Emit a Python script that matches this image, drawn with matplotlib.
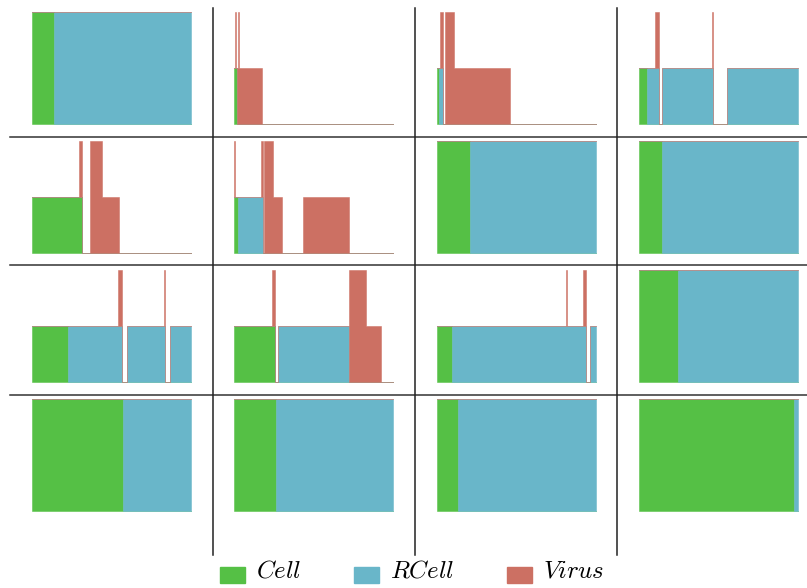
import numpy as np
import matplotlib
matplotlib.use("Agg")
import matplotlib.pyplot as plt
from matplotlib.lines import Line2D
from matplotlib.patches import Patch, Rectangle
from matplotlib.legend_handler import HandlerPatch
from matplotlib.colors import to_rgba

plt.rcParams["mathtext.fontset"] = "cm"

# Population state of each run (4x4 grid, row-major), stored as
# change-point times (0..100) and the level of each species per interval.
times = [
    [0, 13.9, 100],
    [0, 0.6, 1.1, 1.6, 2.4, 3.0, 17.6, 100],
    [0, 1.3, 2.2, 4.1, 4.9, 10.6, 46.2, 100],
    [0, 5.3, 10.1, 12.7, 14.6, 45.9, 46.6, 55.5, 100],
    [0, 29.6, 31.4, 36.7, 44.1, 55.1, 100],
    [0, 0.8, 2.8, 17.0, 18.1, 19.2, 24.3, 30.2, 43.4, 72.3, 100],
    [0, 20.9, 100],
    [0, 14.6, 100],
    [0, 22.8, 54.4, 57.0, 60.1, 83.1, 84.0, 87.3, 100],
    [0, 23.9, 25.8, 27.5, 72.3, 83.5, 92.9, 100],
    [0, 9.5, 81.2, 82.1, 92.4, 94.3, 96.4, 100],
    [0, 24.5, 100],
    [0, 57.6, 100],
    [0, 26.4, 100],
    [0, 13.3, 100],
    [0, 97.5, 100],
]
cell = [
    [1, 0],
    [1, 1, 1, 0, 0, 0, 0],
    [1, 0, 0, 0, 0, 0, 0],
    [1, 0, 0, 0, 0, 0, 0, 0],
    [1, 1, 0, 0, 0, 0],
    [1, 1, 0, 0, 0, 0, 0, 0, 0, 0],
    [1, 0],
    [1, 0],
    [1, 0, 0, 0, 0, 0, 0, 0],
    [1, 1, 0, 0, 0, 0, 0],
    [1, 0, 0, 0, 0, 0, 0],
    [1, 0],
    [1, 0],
    [1, 0],
    [1, 0],
    [1, 0],
]
rcell = [
    [0, 1],
    [0, 0, 0, 0, 0, 0, 0],
    [0, 1, 1, 0, 0, 0, 0],
    [0, 1, 1, 0, 1, 1, 0, 1],
    [0, 0, 0, 0, 0, 0],
    [0, 0, 1, 1, 0, 0, 0, 0, 0, 0],
    [0, 1],
    [0, 1],
    [0, 1, 1, 0, 1, 1, 0, 1],
    [0, 0, 0, 1, 0, 0, 0],
    [0, 1, 1, 1, 1, 0, 1],
    [0, 1],
    [0, 1],
    [0, 1],
    [0, 1],
    [0, 1],
]
virus = [
    [0, 0],
    [0, 1, 0, 1, 2, 1, 0],
    [0, 0, 1, 0, 2, 1, 0],
    [0, 0, 1, 0, 0, 1, 0, 0],
    [0, 1, 0, 2, 1, 0],
    [1, 0, 0, 1, 0, 2, 1, 0, 1, 0],
    [0, 0],
    [0, 0],
    [0, 0, 1, 0, 0, 1, 0, 0],
    [0, 1, 0, 0, 2, 1, 0],
    [0, 0, 1, 0, 1, 0, 0],
    [0, 0],
    [0, 0],
    [0, 0],
    [0, 0],
    [0, 0],
]

labels = ["$Cell$", "$RCell$", "$Virus$"]
colors = ["#55C045", "#69B6C9", "#CC7063"]

W, H = 807, 588
fig = plt.figure(figsize=(W / 100, H / 100), dpi=100)

col_left = [32, 234, 437, 639]
col_width = 158.5
row_top = [12, 141, 270, 399]
row_height = 111.5


def stepped(vals):
    v = np.asarray(vals, dtype=float)
    return np.append(v, v[-1])


for k in range(16):
    r, c = divmod(k, 4)
    ax = fig.add_axes([col_left[c] / W, 1 - (row_top[r] + row_height) / H,
                       col_width / W, row_height / H])
    t = np.asarray(times[k], dtype=float)
    layers = [stepped(cell[k]), stepped(rcell[k]), stepped(virus[k])]
    base = np.zeros_like(t)
    for vals, col in zip(layers, colors):
        top = base + vals
        ax.fill_between(t, base, top, step="post", facecolor=col,
                        edgecolor=to_rgba(col, 0.6), linewidth=0.6)
        base = top
    ax.set_xlim(t[0], t[-1])
    ax.set_ylim(0, base.max())
    ax.axis("off")

# Separators between the runs
for y in [136.5, 265.5, 395]:
    fig.add_artist(Line2D([10 / W, 1], [1 - y / H, 1 - y / H],
                          transform=fig.transFigure, color="#333333",
                          linewidth=1.1))
for x in [212.5, 415, 617]:
    fig.add_artist(Line2D([x / W, x / W], [1 - 8 / H, 1 - 555 / H],
                          transform=fig.transFigure, color="#222222",
                          linewidth=1.1))


def low_box(legend, orig_handle, xdescent, ydescent, width, height, fontsize):
    # legend swatch sitting slightly below the label baseline
    return Rectangle((-xdescent, -ydescent - 5), width, height)


handles = [Patch(facecolor=col, edgecolor=col) for col in colors]
fig.legend(handles, labels, loc="center", ncol=3, frameon=False,
           bbox_to_anchor=(412 / W, 1 - 570 / H), fontsize=18,
           handlelength=1.0, handleheight=0.6, handletextpad=0.45,
           columnspacing=2.1,
           handler_map={Patch: HandlerPatch(patch_func=low_box)})

fig.savefig("out.png", dpi=100)
